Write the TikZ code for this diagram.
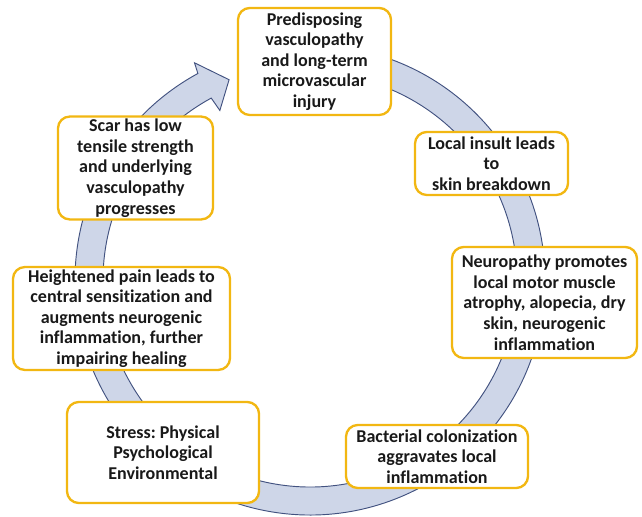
\documentclass[tikz,border=0pt]{standalone}
\usepackage{fontspec}
\setmainfont{Carlito}[Ligatures=NoCommon]
\usetikzlibrary{calc}
\definecolor{boxgold}{RGB}{242,183,18}
\definecolor{ringfill}{RGB}{206,214,232}
\definecolor{ringline}{RGB}{66,82,128}
\tikzset{stage/.style={draw=boxgold, line width=2pt, fill=white, rounded corners=10pt, align=center, inner sep=2pt, font=\bfseries\fontsize{15.4}{17.6}\selectfont\frenchspacing, text=black!90}}

\begin{document}
\begin{tikzpicture}[x=0.03cm, y=0.03cm]
\useasboundingbox (0,0) rectangle (642,-517);
\coordinate (c) at (310,-280);
\filldraw[fill=ringfill, draw=ringline, line width=0.8pt] ($(c)+(80:235)$) arc[start angle=80, end angle=-241.5, radius=235] -- ($(c)+(118:246)$) -- ($(c)+(112:216)$) -- ($(c)+(118:192)$) -- ($(c)+(118.5:207)$) arc[start angle=-241.5, end angle=80, radius=207] -- cycle;
\node[stage, minimum width=4.59cm, minimum height=3.21cm] (predispose) at (314.5,-61.5) {Predisposing\\vasculopathy\\and long-term\\microvascular\\injury};
\node[stage, minimum width=4.59cm, minimum height=1.89cm] (insult) at (491.5,-163.5) {Local insult leads\\to\\skin breakdown};
\node[stage, minimum width=5.55cm, minimum height=3.33cm] (neuro) at (544.5,-302.5) {Neuropathy promotes\\local motor muscle\\atrophy, alopecia, dry\\skin, neurogenic\\inflammation};
\node[stage, minimum width=5.46cm, minimum height=1.89cm] (bact) at (437,-456.5) {Bacterial colonization\\aggravates local\\inflammation};
\node[stage, minimum width=5.76cm, minimum height=3.03cm] (stress) at (163,-452.5) {Stress: Physical\\Psychological\\Environmental};
\node[stage, minimum width=6.51cm, minimum height=2.97cm] (pain) at (121.5,-318.5) {Heightened pain leads to\\central sensitization and\\augments neurogenic\\inflammation, further\\impairing healing};
\node[stage, minimum width=4.65cm, minimum height=2.88cm] (scar) at (135.5,-168) {Scar has low\\tensile strength\\and underlying\\vasculopathy\\progresses};
\end{tikzpicture}
\end{document}
